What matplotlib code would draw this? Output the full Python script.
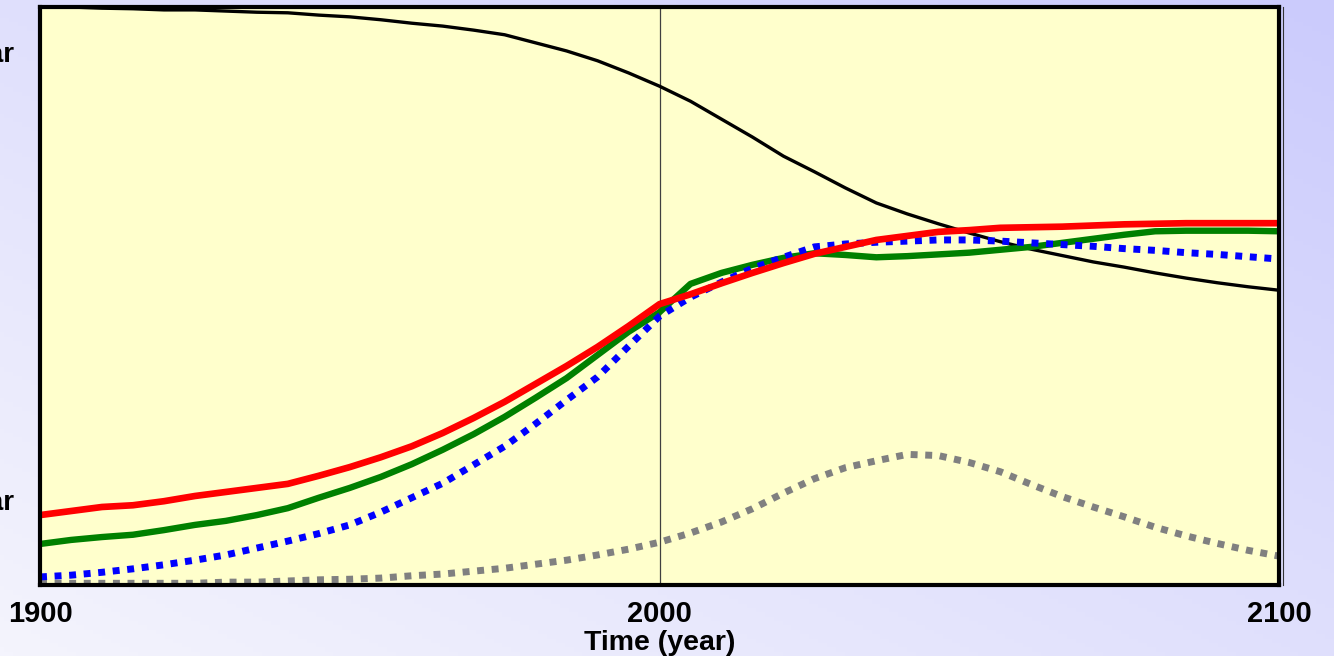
import matplotlib.pyplot as plt
import numpy as np
from matplotlib.colors import LinearSegmentedColormap
from matplotlib.lines import Line2D

plt.rcParams["font.family"] = ["Liberation Sans", "DejaVu Sans"]

years = np.arange(1900, 2101, 5)

remaining = [100.0, 100.0, 99.8, 99.7, 99.5, 99.5, 99.3, 99.1, 99.0, 98.6,
             98.3, 97.8, 97.2, 96.7, 96.0, 95.2, 93.8, 92.4, 90.7, 88.6,
             86.3, 83.7, 80.6, 77.5, 74.2, 71.5, 68.7, 66.1, 64.2, 62.5,
             60.9, 59.4, 58.1, 57.0, 55.9, 55.0, 54.0, 53.1, 52.3, 51.6, 51.0]
demand = [12.1, 12.8, 13.5, 13.8, 14.5, 15.4, 16.1, 16.8, 17.5, 18.9,
          20.4, 22.1, 24.0, 26.3, 28.9, 31.7, 34.8, 37.9, 41.2, 44.8,
          48.6, 50.3, 52.2, 54.0, 55.7, 57.3, 58.5, 59.7, 60.4, 61.1,
          61.4, 61.8, 61.9, 62.0, 62.2, 62.4, 62.5, 62.6, 62.6, 62.6, 62.6]
supply = [7.1, 7.8, 8.3, 8.7, 9.5, 10.4, 11.1, 12.1, 13.3, 15.1,
          16.8, 18.7, 20.9, 23.4, 26.1, 29.1, 32.4, 35.8, 39.8, 43.8,
          47.2, 52.1, 54.0, 55.4, 56.6, 57.4, 57.1, 56.7, 56.9, 57.2,
          57.5, 58.0, 58.5, 59.2, 59.9, 60.6, 61.2, 61.3, 61.3, 61.3, 61.2]
production = [1.4, 1.7, 2.2, 2.8, 3.5, 4.3, 5.2, 6.4, 7.6, 8.9,
              10.4, 12.6, 15.1, 17.6, 20.8, 24.0, 27.9, 32.0, 36.0, 41.3,
              46.5, 49.8, 52.4, 54.8, 56.7, 58.5, 59.0, 59.3, 59.5, 59.7,
              59.7, 59.5, 59.2, 58.9, 58.6, 58.2, 57.9, 57.5, 57.2, 56.8, 56.4]
alternative = [0.3, 0.3, 0.3, 0.3, 0.3, 0.3, 0.5, 0.5, 0.7, 0.9,
               1.0, 1.2, 1.6, 1.9, 2.4, 2.9, 3.6, 4.3, 5.2, 6.2,
               7.4, 9.0, 10.9, 13.2, 15.9, 18.4, 20.3, 21.5, 22.6, 22.4,
               21.2, 19.6, 17.4, 15.3, 13.5, 11.8, 10.0, 8.5, 7.2, 6.0, 5.0]

xticks = [1900, 2000, 2100]

fig = plt.figure(figsize=(13.34, 6.56), dpi=100)

# lavender gradient behind everything
bg = fig.add_axes([0, 0, 1, 1], zorder=-10)
gx, gy = np.meshgrid(np.linspace(0, 1, 300), np.linspace(0, 1, 150))
grad = 0.5 * gx + 0.5 * gy
cmap = LinearSegmentedColormap.from_list("lav", ["#f4f4fd", "#cbcbfc"])
bg.imshow(grad, cmap=cmap, origin="lower", aspect="auto", extent=[0, 1, 0, 1])
bg.set_axis_off()

ax = fig.add_axes([0.030, 0.1082, 0.9288, 0.8811])
ax.set_facecolor("#ffffcc")

ax.plot(years, remaining, color="black", lw=2.4, solid_capstyle="butt")
ax.plot(years, alternative, color="#808080", lw=5, ls=(0, (1, 1.1)))
ax.plot(years, supply, color="#008000", lw=4.6, solid_capstyle="butt")
ax.plot(years, production, color="#0000ff", lw=5, ls=(0, (1, 1.1)))
ax.plot(years, demand, color="#ff0000", lw=4.8, solid_capstyle="butt")

ax.axvline(2000, color="#404040", lw=0.9, zorder=1)

ax.set_xlim(1900, 2100)
ax.set_ylim(0, 100)
ax.set_xticks(xticks)
ax.set_xticklabels([str(t) for t in xticks], fontsize=21, fontweight="bold")
ax.tick_params(axis="x", length=0, pad=11)
ax.set_yticks([])
ax.set_xlabel("Time (year)", fontsize=20.5, fontweight="bold", labelpad=1)

for side in ax.spines.values():
    side.set_linewidth(3)
    side.set_color("black")

# thin outer edge on the right-hand frame
fig.add_artist(Line2D([0.9615, 0.9615], [0.1082, 0.9893], color="#333333", lw=0.8))

# scale labels running off the left edge
fig.text(0.011, 1 - 55 / 656, "Units/year", ha="right", va="center",
         fontsize=20, fontweight="bold")
fig.text(0.011, 1 - 503 / 656, "Units/year", ha="right", va="center",
         fontsize=20, fontweight="bold")

fig.savefig("out.png", dpi=100)
